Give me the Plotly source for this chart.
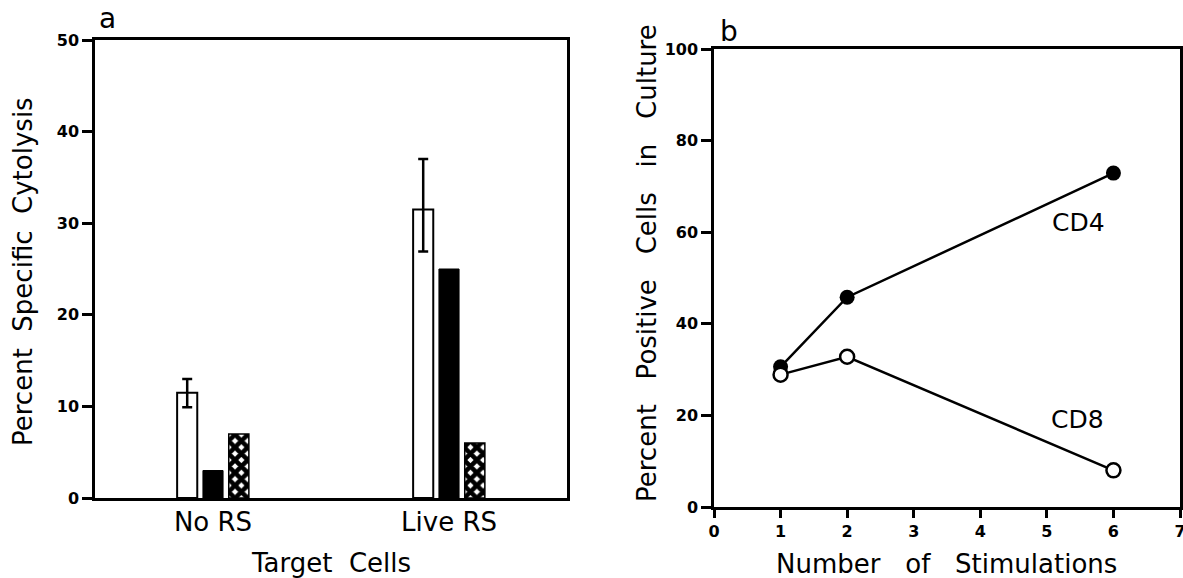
import plotly.graph_objects as go

# ---------- data ----------
targets = ["No RS", "Live RS"]
open_bar = [11.5, 31.5]
open_err_plus = [1.5, 5.5]
open_err_minus = [1.6, 4.6]
black_bar = [3, 25]
hatched_bar = [7, 6]

stimulations = [1, 2, 6]
cd4 = [30.6, 45.8, 72.9]
cd8 = [28.9, 32.8, 8.0]

W, H = 1183, 578
FONT = "DejaVu Sans"
NB = "\u00a0"


def px(x):
    return x / W


def py(y):
    return 1 - y / H


fig = go.Figure()

# ---------- panel a: bars ----------
fig.add_trace(go.Bar(
    x=targets, y=open_bar, xaxis="x", yaxis="y",
    marker=dict(color="white", line=dict(color="black", width=2)),
    error_y=dict(type="data", symmetric=False, array=open_err_plus,
                 arrayminus=open_err_minus, color="black", thickness=2.5, width=5),
))
fig.add_trace(go.Bar(
    x=targets, y=black_bar, xaxis="x", yaxis="y",
    marker=dict(color="black", line=dict(color="black", width=1)),
))
fig.add_trace(go.Bar(
    x=targets, y=hatched_bar, xaxis="x", yaxis="y",
    marker=dict(color="black", line=dict(color="black", width=1.5),
                pattern=dict(shape="x", fgcolor="black", bgcolor="white",
                             fillmode="replace", size=9, solidity=0.76)),
))

# ---------- panel b: lines ----------
fig.add_trace(go.Scatter(
    x=stimulations, y=cd4, xaxis="x2", yaxis="y2", mode="lines+markers",
    line=dict(color="black", width=2.5),
    marker=dict(color="black", size=15, line=dict(color="black", width=0)),
    cliponaxis=False,
))
fig.add_trace(go.Scatter(
    x=stimulations, y=cd8, xaxis="x2", yaxis="y2", mode="lines+markers",
    line=dict(color="black", width=2.5),
    marker=dict(color="white", size=14, line=dict(color="black", width=2.5)),
    cliponaxis=False,
))

tick_font = dict(family=FONT, size=16, color="black", weight="bold")
common = dict(showline=True, mirror=True, linecolor="black", linewidth=2.5,
              showgrid=False, zeroline=False, automargin=False)

fig.update_layout(
    width=W, height=H,
    margin=dict(l=0, r=0, t=0, b=0, pad=0, autoexpand=False),
    paper_bgcolor="white", plot_bgcolor="white",
    showlegend=False,
    barmode="group", bargap=0.672, bargroupgap=0.22,
    xaxis=dict(domain=[px(95), px(567)], anchor="y", range=[-0.5, 1.5],
               ticks="", tickfont=dict(family=FONT, size=26, color="black"),
               ticklabelstandoff=-1, **common),
    yaxis=dict(domain=[py(498), py(40)], anchor="x", range=[0, 50], dtick=10,
               ticks="outside", ticklen=10, tickwidth=2.5, tickcolor="black",
               tickfont=tick_font, **common),
    xaxis2=dict(domain=[px(714), px(1180)], anchor="y2", range=[0, 7], dtick=1,
                ticks="outside", ticklen=8, tickwidth=2.5, tickcolor="black",
                tickfont=tick_font, ticklabeloverflow="allow", **common),
    yaxis2=dict(domain=[py(507), py(49)], anchor="x2", range=[0, 100], dtick=20,
                ticks="outside", ticklen=10, tickwidth=2.5, tickcolor="black",
                tickfont=tick_font, **common),
)

title_font = dict(family=FONT, size=26, color="black")
ann = [
    dict(text="a", x=px(97), y=py(19), xanchor="left", yanchor="middle",
         font=dict(family=FONT, size=28, color="black")),
    dict(text="b", x=px(718), y=py(32), xanchor="left", yanchor="middle",
         font=dict(family=FONT, size=28, color="black")),
    dict(text="Percent" + NB * 2 + "Specific" + NB * 2 + "Cytolysis",
         x=px(23), y=py(272), textangle=-90, xanchor="center", yanchor="middle",
         font=title_font),
    dict(text="Target" + NB * 2 + "Cells", x=px(331), y=py(563),
         xanchor="center", yanchor="middle", font=title_font),
    dict(text="Percent" + NB * 3 + "Positive" + NB * 3 + "Cells" + NB * 3 + "in" + NB * 3 + "Culture",
         x=px(647), y=py(263), textangle=-90, xanchor="center", yanchor="middle",
         font=title_font),
    dict(text="Number" + NB * 3 + "of" + NB * 3 + "Stimulations", x=px(947), y=py(564),
         xanchor="center", yanchor="middle", font=title_font),
]
for a in ann:
    a.update(xref="paper", yref="paper", showarrow=False)
fig.update_layout(annotations=ann)

fig.add_annotation(text="CD4", x=5.48, y=62.2, xref="x2", yref="y2", showarrow=False,
                   font=dict(family=FONT, size=25, color="black"))
fig.add_annotation(text="CD8", x=5.46, y=19.2, xref="x2", yref="y2", showarrow=False,
                   font=dict(family=FONT, size=25, color="black"))

fig.write_html("out.html",
               config={"displayModeBar": False},
               post_script="document.body.style.margin='0px';"
                           "document.body.style.overflow='hidden';")
